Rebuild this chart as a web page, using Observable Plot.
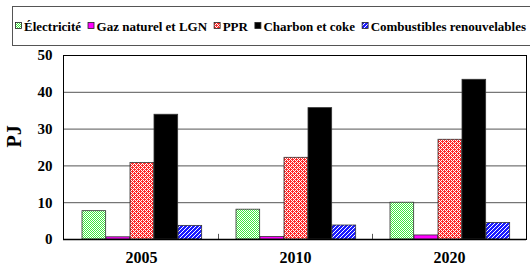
<!DOCTYPE html>
<html>
<head>
<meta charset="utf-8">
<script src="https://cdn.jsdelivr.net/npm/d3@7"></script>
<script src="https://cdn.jsdelivr.net/npm/@observablehq/plot@0.6"></script>
<style>
  html, body { margin: 0; padding: 0; background: #fff; width: 530px; height: 270px; overflow: hidden; }
  #wrap { position: relative; width: 530px; height: 270px; }
  #legend { position: absolute; left: 0; top: 0; }
  #chart { position: absolute; left: 0; top: 46px; }
</style>
</head>
<body>
<div id="wrap">
  <div id="legend"></div>
  <div id="chart"></div>
</div>
<script>
const years = ["2005", "2010", "2020"];
const series = ["Électricité", "Gaz naturel et LGN", "PPR", "Charbon et coke", "Combustibles renouvelables"];
const elec = [7.7, 8.1, 10.0];
const gaz = [0.6, 0.7, 1.1];
const ppr = [20.8, 22.2, 27.1];
const charbon = [33.9, 35.7, 43.4];
const renouv = [3.7, 3.8, 4.5];
const yTicks = [0, 10, 20, 30, 40, 50];
const yLabel = "PJ";

const values = [elec, gaz, ppr, charbon, renouv];
const fills = ["url(#pat-green)", "#ff00ff", "url(#pat-red)", "#000000", "url(#pat-blue)"];

const data = [];
series.forEach((s, i) => years.forEach((y, j) => data.push({series: s, year: y, value: values[i][j]})));

const W = 530, H = 224, ml = 63, mr = 4, mt = 9, mb = 31;
const bw = (W - ml - mr) / years.length;
const barW = 24, lead = 18;

const font = "Liberation Serif";

const marks = [
  Plot.ruleY(yTicks, {y: d => d, stroke: "#555", strokeWidth: 1}),
  ...series.map((s, i) => Plot.barY(data.filter(d => d.series === s), {
    x: "year", y: "value", fill: fills[i], stroke: "#333", strokeWidth: 0.8,
    insetLeft: lead + barW * i, insetRight: bw - lead - barW * (i + 1)
  })),
  Plot.barY(years.slice(1), {x: d => d, y1: 0, y2: 1.4, insetRight: bw - 1, fill: "black"}),
  Plot.frame({stroke: "black", strokeWidth: 1}),
  Plot.ruleY([0], {stroke: "black", strokeWidth: 1.5}),
  Plot.text(yTicks, {y: d => d, frameAnchor: "left", dx: -11, textAnchor: "end", fontSize: 15, fontWeight: "bold", fontFamily: font}),
  Plot.text(years, {x: d => d, frameAnchor: "bottom", dy: 23, fontSize: 16, fontWeight: "bold", fontFamily: font}),
  Plot.text([yLabel], {text: d => d, frameAnchor: "left", dx: -49, rotate: -90, fontSize: 20, fontWeight: "bold", fontFamily: font})
];

const svg = Plot.plot({
  width: W, height: H,
  marginLeft: ml, marginRight: mr, marginTop: mt, marginBottom: mb,
  x: {domain: years, padding: 0, axis: null},
  y: {domain: [0, 50], axis: null},
  style: {fontFamily: font, background: "white", overflow: "visible"},
  marks
});

// patterns
const ns = "http://www.w3.org/2000/svg";
const defsSvg = document.createElementNS(ns, "svg");
defsSvg.setAttribute("width", 0); defsSvg.setAttribute("height", 0);
defsSvg.style.position = "absolute";
const defs = document.createElementNS(ns, "defs");
function makePattern(id, base, whites) {
  const p = document.createElementNS(ns, "pattern");
  p.setAttribute("id", id);
  p.setAttribute("patternUnits", "userSpaceOnUse");
  p.setAttribute("width", 4); p.setAttribute("height", 4);
  const r = document.createElementNS(ns, "rect");
  r.setAttribute("width", 4); r.setAttribute("height", 4); r.setAttribute("fill", base);
  p.appendChild(r);
  whites.forEach(([x, y]) => {
    const q = document.createElementNS(ns, "rect");
    q.setAttribute("x", x); q.setAttribute("y", y);
    q.setAttribute("width", 1); q.setAttribute("height", 1);
    q.setAttribute("fill", "white");
    p.appendChild(q);
  });
  defs.appendChild(p);
}
const diagA = [[0,3],[1,2],[2,1],[3,0]];
const diagB = [[0,1],[1,0],[2,3],[3,2]];
makePattern("pat-green", "#40e840", diagA.concat(diagB));
makePattern("pat-red", "#ff2a2a", diagA.concat([[1,0],[3,2]]));
makePattern("pat-blue", "#1c1cff", diagA);
defsSvg.appendChild(defs);
document.body.appendChild(defsSvg);

document.getElementById("chart").appendChild(svg);

// legend (SVG)
const lg = d3.create("svg").attr("width", 530).attr("height", 46)
  .attr("font-family", font).attr("font-weight", "bold").attr("font-size", 13);
lg.append("rect").attr("x", 12.5).attr("y", 6.5).attr("width", 600).attr("height", 39)
  .attr("fill", "white").attr("stroke", "#555").attr("stroke-width", 1);
document.getElementById("legend").appendChild(lg.node());
let cx = 15;
series.forEach((s, i) => {
  lg.append("rect").attr("x", cx + 0.5).attr("y", 22.5).attr("width", 6).attr("height", 6)
    .attr("fill", fills[i]).attr("stroke", "#222").attr("stroke-width", 0.8);
  cx += 9;
  const t = lg.append("text").attr("x", cx).attr("y", 30.5).text(s);
  cx += t.node().getComputedTextLength() + 6.5;
});
</script>
</body>
</html>
